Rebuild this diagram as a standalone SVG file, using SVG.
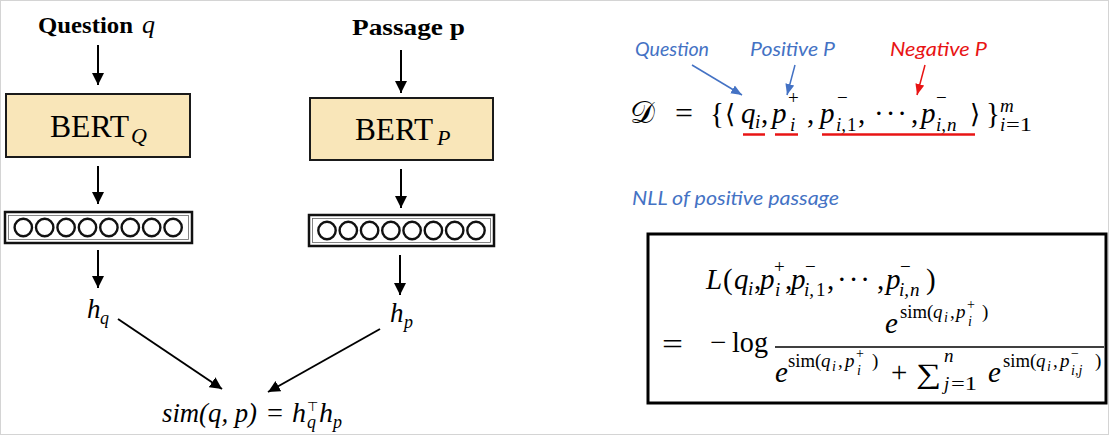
<svg xmlns="http://www.w3.org/2000/svg" width="1111" height="436" viewBox="0 0 1111 436">
<style>
.serif{font-family:"Liberation Serif","DejaVu Serif",serif;fill:#000}
.it{font-style:italic}
.bold{font-weight:bold}
.lbl{font-family:Lato,"Open Sans","Liberation Sans",sans-serif;font-style:italic}
.blue{fill:#4472c4}
.red{fill:#e81414}
.bert{fill:#f9e6b9;stroke:#1a1a1a;stroke-width:2}
.vec{fill:#fff;stroke:#111;stroke-width:2.5}
.vecin{fill:none;stroke:#666;stroke-width:0.8}
.dot{fill:#fff;stroke:#111;stroke-width:2.4}
.conn{stroke:#000;stroke-width:2;fill:none}
.bconn{stroke:#4472c4;stroke-width:1.5;fill:none}
.rconn{stroke:#e81414;stroke-width:1.5;fill:none}
.ul{stroke:#e81414;stroke-width:2.5}
.m{font-size:29px}
.s{font-size:19px}
.ss{font-size:14px}
</style>
<defs>
<marker id="ah" markerUnits="userSpaceOnUse" markerWidth="13" markerHeight="13" refX="12" refY="6" orient="auto">
<path d="M0,0 L12,6 L0,12 z" fill="#000"/>
</marker>
<marker id="ahb" markerUnits="userSpaceOnUse" markerWidth="12" markerHeight="10" refX="11" refY="4.5" orient="auto">
<path d="M0,0 L11,4.5 L0,9 z" fill="#4472c4"/>
</marker>
<marker id="ahr" markerUnits="userSpaceOnUse" markerWidth="12" markerHeight="10" refX="11" refY="4.5" orient="auto">
<path d="M0,0 L11,4.5 L0,9 z" fill="#e81414"/>
</marker>
</defs>
<rect x="0.5" y="0.5" width="1108" height="434" fill="#fff" stroke="#d4d4d4" stroke-width="1"/>

<g id="question-input">
<text class="serif bold" x="38" y="33" font-size="24" textLength="95" lengthAdjust="spacingAndGlyphs">Question</text>
<text class="serif it" x="142" y="33" font-size="26">q</text>
</g>
<g id="passage-input">
<text class="serif bold" x="352" y="35" font-size="24" textLength="113" lengthAdjust="spacingAndGlyphs">Passage p</text>
</g>

<g id="bert-q">
<rect class="bert" x="6" y="94" width="184" height="63"/>
<text class="serif" x="50" y="137" font-size="32" textLength="79" lengthAdjust="spacingAndGlyphs">BERT</text>
<text class="serif it" x="131" y="143" font-size="22">Q</text>
</g>
<g id="bert-p">
<rect class="bert" x="310" y="98" width="183" height="62"/>
<text class="serif" x="355" y="140" font-size="32" textLength="78" lengthAdjust="spacingAndGlyphs">BERT</text>
<text class="serif it" x="437" y="145" font-size="22">P</text>
</g>

<g id="vector-q">
<rect class="vec" x="5" y="212" width="187" height="31"/>
<rect class="vecin" x="8.5" y="215.5" width="180" height="24"/>
<circle class="dot" cx="23.3" cy="227.5" r="8.7"/>
<circle class="dot" cx="44.7" cy="227.5" r="8.7"/>
<circle class="dot" cx="66.1" cy="227.5" r="8.7"/>
<circle class="dot" cx="87.5" cy="227.5" r="8.7"/>
<circle class="dot" cx="108.9" cy="227.5" r="8.7"/>
<circle class="dot" cx="130.3" cy="227.5" r="8.7"/>
<circle class="dot" cx="151.7" cy="227.5" r="8.7"/>
<circle class="dot" cx="173.1" cy="227.5" r="8.7"/>
</g>
<g id="vector-p">
<rect class="vec" x="309" y="215" width="185" height="31"/>
<rect class="vecin" x="312.5" y="218.5" width="178" height="24"/>
<circle class="dot" cx="327" cy="230.5" r="8.7"/>
<circle class="dot" cx="348.3" cy="230.5" r="8.7"/>
<circle class="dot" cx="369.6" cy="230.5" r="8.7"/>
<circle class="dot" cx="390.9" cy="230.5" r="8.7"/>
<circle class="dot" cx="412.1" cy="230.5" r="8.7"/>
<circle class="dot" cx="433.4" cy="230.5" r="8.7"/>
<circle class="dot" cx="454.7" cy="230.5" r="8.7"/>
<circle class="dot" cx="476" cy="230.5" r="8.7"/>
</g>

<g id="hq">
<text class="serif it" x="87" y="318" font-size="27">h</text>
<text class="serif it" x="100" y="324" font-size="18">q</text>
</g>
<g id="hp">
<text class="serif it" x="390" y="322" font-size="27">h</text>
<text class="serif it" x="404" y="328" font-size="18">p</text>
</g>

<g id="similarity">
<text class="serif it" x="162" y="422" font-size="28" textLength="95" lengthAdjust="spacingAndGlyphs">sim(q, p)</text>
<text class="serif" x="267" y="422" font-size="28" textLength="16" lengthAdjust="spacingAndGlyphs">=</text>
<text class="serif it" x="292" y="422" font-size="28">h</text>
<text x="307" y="411" font-size="13" font-family="'DejaVu Sans',sans-serif">⊤</text>
<text class="serif it" x="307" y="428" font-size="18">q</text>
<text class="serif it" x="319" y="422" font-size="28">h</text>
<text class="serif it" x="333" y="428" font-size="18">p</text>
</g>

<g id="connectors">
<line class="conn" x1="98" y1="45" x2="98" y2="85" marker-end="url(#ah)"/>
<line class="conn" x1="401" y1="50" x2="401" y2="93" marker-end="url(#ah)"/>
<line class="conn" x1="98" y1="166" x2="98" y2="204" marker-end="url(#ah)"/>
<line class="conn" x1="401" y1="169" x2="401" y2="208" marker-end="url(#ah)"/>
<line class="conn" x1="98" y1="250" x2="98" y2="288" marker-end="url(#ah)"/>
<line class="conn" x1="400" y1="255" x2="400" y2="295" marker-end="url(#ah)"/>
<line class="conn" x1="118" y1="319" x2="222" y2="389" marker-end="url(#ah)"/>
<line class="conn" x1="380" y1="329" x2="268" y2="392" marker-end="url(#ah)"/>
<line class="bconn" x1="692" y1="65" x2="742" y2="95" marker-end="url(#ahb)"/>
<line class="bconn" x1="795" y1="65" x2="787" y2="95" marker-end="url(#ahb)"/>
<line class="rconn" x1="925" y1="65" x2="917" y2="95" marker-end="url(#ahr)"/>
</g>

<g id="labels">
<text class="lbl blue" x="635" y="56" font-size="19" textLength="74" lengthAdjust="spacingAndGlyphs">Question</text>
<text class="lbl blue" x="750" y="56" font-size="19" textLength="85" lengthAdjust="spacingAndGlyphs">Positive P</text>
<text class="lbl red" x="890" y="56" font-size="19" textLength="97" lengthAdjust="spacingAndGlyphs">Negative P</text>
<text class="lbl blue" x="632" y="205" font-size="19" textLength="207" lengthAdjust="spacingAndGlyphs">NLL of positive passage</text>
</g>

<g id="dataset-formula" class="serif">
<text x="630" y="123" font-size="31" font-family="'DejaVu Serif','DejaVu Sans','Noto Sans',serif">𝒟</text>
<text class="m" x="675" y="123" textLength="18" lengthAdjust="spacingAndGlyphs">=</text>
<text class="m" x="710" y="123">{</text>
<text x="725" y="123" font-family="'DejaVu Serif',serif" font-size="26">⟨</text>
<text class="m it" x="741" y="123">q</text><text class="s it" x="755" y="128">i</text>
<text class="m" x="761" y="123">,</text>
<text class="m it" x="772" y="123">p</text><text class="s" x="788" y="104">+</text><text class="s it" x="790" y="131">i</text>
<text class="m" x="807" y="123">,</text>
<text class="m it" x="820" y="123">p</text><text class="s" x="837" y="104">−</text><text class="s it" x="836" y="131">i,</text><text class="s" x="847" y="131">1</text>
<text class="m" x="858" y="123">,</text>
<text class="m" x="874" y="123" textLength="33" lengthAdjust="spacing">···</text>
<text class="m" x="911" y="123">,</text>
<text class="m it" x="921" y="123">p</text><text class="s" x="936" y="104">−</text><text class="s it" x="936" y="131">i,</text><text class="s it" x="947" y="131">n</text>
<text x="970" y="123" font-family="'DejaVu Serif',serif" font-size="26">⟩</text>
<text class="m" x="986" y="123">}</text>
<text class="s it" x="1000" y="112">m</text>
<text class="s it" x="1000" y="131">i</text><text class="s" x="1006" y="131" textLength="26" lengthAdjust="spacingAndGlyphs">=1</text>
<line class="ul" x1="743" y1="134.5" x2="765" y2="134.5"/>
<line class="ul" x1="775" y1="134.5" x2="798" y2="134.5"/>
<line class="ul" x1="822" y1="134.5" x2="975" y2="134.5"/>
</g>

<g id="loss-box" class="serif">
<rect x="648" y="234" width="458" height="169" fill="#fff" stroke="#000" stroke-width="3"/>
<text class="m it" x="706" y="289">L</text>
<text class="m" x="723" y="289">(</text>
<text class="m it" x="734" y="289">q</text><text class="s it" x="748" y="295">i</text>
<text class="m" x="754" y="289">,</text>
<text class="m it" x="760" y="289">p</text><text class="s" x="774" y="273">+</text><text class="s it" x="775" y="296">i</text>
<text class="m" x="785" y="289">,</text>
<text class="m it" x="791" y="289">p</text><text class="s" x="805" y="273">−</text><text class="s it" x="804" y="296">i,</text><text class="s" x="816" y="296">1</text>
<text class="m" x="827" y="289">,</text>
<text class="m" x="837" y="289" textLength="33" lengthAdjust="spacing">···</text>
<text class="m" x="877" y="289">,</text>
<text class="m it" x="886" y="289">p</text><text class="s" x="900" y="273">−</text><text class="s it" x="899" y="296">i,</text><text class="s it" x="910" y="296">n</text>
<text class="m" x="926" y="289">)</text>

<text class="m" x="662" y="354" textLength="21" lengthAdjust="spacingAndGlyphs">=</text>
<text class="m" x="710" y="352">−</text>
<text class="m" x="732" y="352" textLength="36" lengthAdjust="spacingAndGlyphs">log</text>
<line x1="775" y1="347" x2="1104" y2="347" stroke="#000" stroke-width="1.3"/>

<text class="m it" x="885" y="333">e</text>
<text class="s" x="900" y="318" textLength="27" lengthAdjust="spacingAndGlyphs">sim</text>
<text class="s" x="927" y="318">(</text>
<text class="s it" x="933" y="318">q</text><text class="ss it" x="944" y="322">i</text>
<text class="s" x="950" y="318">,</text>
<text class="s it" x="956" y="318">p</text><text class="ss" x="967" y="309">+</text><text class="ss it" x="968" y="326">i</text>
<text class="s" x="982" y="318">)</text>

<text class="m it" x="775" y="382">e</text>
<text class="s" x="788" y="367" textLength="27" lengthAdjust="spacingAndGlyphs">sim</text>
<text class="s" x="815" y="367">(</text>
<text class="s it" x="821" y="367">q</text><text class="ss it" x="832" y="371">i</text>
<text class="s" x="838" y="367">,</text>
<text class="s it" x="845" y="367">p</text><text class="ss" x="856" y="358">+</text><text class="ss it" x="857" y="375">i</text>
<text class="s" x="872" y="367">)</text>
<text class="m" x="891" y="382">+</text>
<text x="916" y="383" font-size="28" textLength="25" lengthAdjust="spacingAndGlyphs" font-family="'Liberation Serif','DejaVu Serif',serif">∑</text>
<text class="s it" x="944" y="362">n</text>
<text class="s it" x="944" y="390">j</text><text class="s" x="951" y="390" textLength="26" lengthAdjust="spacingAndGlyphs">=1</text>
<text class="m it" x="988" y="382">e</text>
<text class="s" x="1003" y="367" textLength="27" lengthAdjust="spacingAndGlyphs">sim</text>
<text class="s" x="1030" y="367">(</text>
<text class="s it" x="1036" y="367">q</text><text class="ss it" x="1047" y="371">i</text>
<text class="s" x="1053" y="367">,</text>
<text class="s it" x="1060" y="367">p</text><text class="ss" x="1071" y="358">−</text><text class="ss it" x="1071" y="375">i,j</text>
<text class="s" x="1095" y="367">)</text>
</g>
</svg>
